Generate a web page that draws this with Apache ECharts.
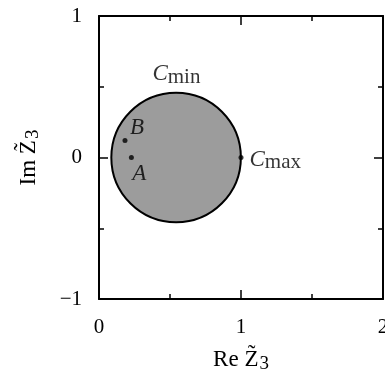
<!DOCTYPE html>
<html>
<head>
<meta charset="utf-8">
<script src="https://cdn.jsdelivr.net/npm/echarts@6/dist/echarts.min.js"></script>
<style>
  html, body { margin: 0; padding: 0; background: #fff; }
  #chart { width: 385px; height: 376px; }
</style>
</head>
<body>
<div id="chart"></div>
<script>
const xTicks = [0, 1, 2];
const yTicks = [-1, 0, 1];
// circle region: centre (re, im) and radius
const circleCenter = [0.543, 0];
const circleRadius = 0.457;
// marked points
const pointNames = ["A", "B", "Cmax"];
const pointValues = [[0.228, 0], [0.183, 0.12], [1.0, 0]];
// C_min label anchor (just above the top of the circle)
const cminAnchor = [0.545, 0.457];

const serif = "'Liberation Serif', 'Times New Roman', serif";
const rich = {
  i: { fontFamily: serif, fontStyle: "italic", fontSize: 23, color: "#000" },
  s: { fontFamily: serif, fontSize: 21, color: "#000", padding: [6, 0, 0, 0] },
  n: { fontFamily: serif, fontSize: 23, color: "#000" },
  sub: { fontFamily: serif, fontSize: 19, color: "#000", padding: [10, 0, 0, 1] }
};

const chart = echarts.init(document.getElementById("chart"));

function axisCommon(min, max, show) {
  return {
    type: "value",
    min: min,
    max: max,
    interval: 1,
    splitLine: { show: false },
    axisLine: { show: true, onZero: false, lineStyle: { color: "#000", width: 2 } },
    axisTick: { show: true, inside: true, length: 9, lineStyle: { color: "#000", width: 1.5 } },
    minorTick: { show: true, splitNumber: 2, length: 5, lineStyle: { color: "#000", width: 1.5 } },
    axisLabel: {
      show: show,
      fontFamily: serif,
      fontSize: 21,
      color: "#000",
      formatter: v => String(v).replace("-", "\u2212")
    }
  };
}

const xBottom = Object.assign(axisCommon(xTicks[0], xTicks[2], true), {
  position: "bottom",
  name: "{n|Re Z\u0303}{sub|3}",
  nameLocation: "middle",
  nameGap: 46,
  nameTextStyle: { rich: rich }
});
xBottom.axisLabel.margin = 18;
const xTop = Object.assign(axisCommon(xTicks[0], xTicks[2], false), { position: "top" });

const yLeft = Object.assign(axisCommon(yTicks[0], yTicks[2], true), {
  position: "left",
  name: "{n|Im Z\u0303}{sub|3}",
  nameLocation: "middle",
  nameGap: 56,
  nameRotate: 90,
  nameTextStyle: { rich: rich }
});
yLeft.axisLabel.margin = 17;
const yRight = Object.assign(axisCommon(yTicks[0], yTicks[2], false), { position: "right" });

chart.setOption({
  animation: false,
  backgroundColor: "#fff",
  grid: { left: 99, right: 2, top: 16, bottom: 77, containLabel: false, outerBoundsMode: "none" },
  xAxis: [xBottom, xTop],
  yAxis: [yLeft, yRight],
  series: [
    {
      type: "custom",
      xAxisIndex: 0,
      yAxisIndex: 0,
      data: [[circleCenter[0], circleCenter[1], circleRadius]],
      renderItem: function (params, api) {
        const c = api.coord([api.value(0), api.value(1)]);
        const r = api.size([api.value(2), api.value(2)]);
        return {
          type: "circle",
          shape: { cx: c[0], cy: c[1], r: (r[0] + r[1]) / 2 },
          style: { fill: "#9c9c9c", stroke: "#000", lineWidth: 2 }
        };
      },
      z: 2
    },
    {
      type: "scatter",
      symbolSize: 5,
      itemStyle: { color: "#000" },
      z: 3,
      data: [
        { name: pointNames[0], value: pointValues[0], label: { position: "bottom", offset: [8, 0], distance: 2 } },
        { name: pointNames[1], value: pointValues[1], label: { position: "top", offset: [12, 3], distance: 2 } },
        { name: pointNames[2], value: pointValues[2], label: { position: "right", distance: 6, offset: [0, 2] } }
      ],
      label: {
        show: true,
        rich: rich,
        formatter: p => p.name === "Cmax" ? "{i|C}{s|max}" : "{i|" + p.name + "}"
      }
    },
    {
      type: "scatter",
      symbolSize: 0,
      z: 3,
      data: [{ name: "Cmin", value: cminAnchor }],
      label: {
        show: true,
        position: "top",
        distance: 5,
        rich: rich,
        formatter: "{i|C}{s|min}"
      }
    }
  ]
});
</script>
</body>
</html>
